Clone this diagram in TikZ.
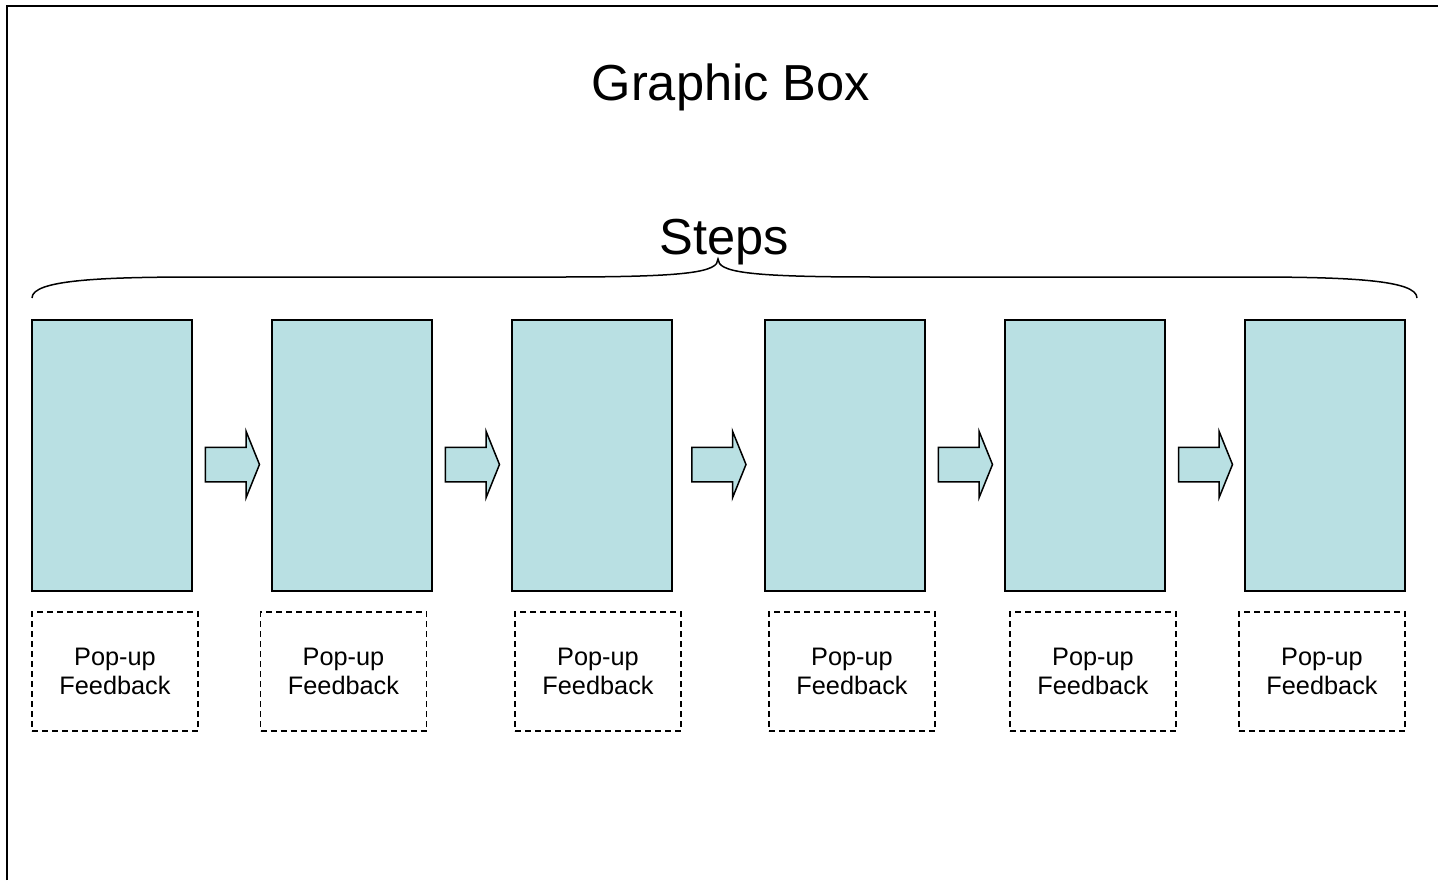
\documentclass[tikz,border=0pt]{standalone}
\usepackage{fontspec}
\setmainfont{Liberation Sans}
\usetikzlibrary{shapes.arrows,calc}
\definecolor{stepfill}{RGB}{185,224,227}

\begin{document}
\begin{tikzpicture}[x=0.2mm,y=-0.2mm,
	stepbox/.style={draw,line width=0.3mm,fill=stepfill,minimum width=32mm,minimum height=54.2mm,inner sep=0},
	popbox/.style={draw,line width=0.25mm,dash pattern=on 1.2mm off 0.8mm,minimum width=33.2mm,minimum height=23.8mm,align=center,font=\fontsize{14.4}{16.6}\selectfont},
	nextarrow/.style={single arrow,draw,line width=0.3mm,fill=stepfill,minimum height=10.8mm,minimum width=13mm,single arrow head extend=3.2mm,single arrow tip angle=136,inner xsep=0,inner ysep=3.3mm,xshift=-0.6mm,yshift=-1.8mm}]
	\useasboundingbox (0,0) rectangle (1438,880);
	
	%FRAME
	\draw[line width=0.4mm] (6.5,880)--(6.5,5.5)--(1438,5.5);
	
	%TITLES
	\node (title) [anchor=base] at (731,100) {\fontsize{28.8}{34}\selectfont Graphic Box};
	\node (steps) [anchor=base] at (724,254) {\fontsize{28.8}{34}\selectfont Steps};
	
	%BRACE
	\draw[line width=0.3mm] (32,298) .. controls (32,280) and (100,277) .. (200,277) -- (560,277)
		.. controls (690,277) and (718,272) .. (718,259)
		.. controls (718,272) and (746,277) .. (876,277) -- (1249,277)
		.. controls (1349,277) and (1417,280) .. (1417,298);
	
	%STEPS
	\node[stepbox] (s1) at (112,455.5) {};
	\node[stepbox] (s2) at (352,455.5) {};
	\node[stepbox] (s3) at (592,455.5) {};
	\node[stepbox] (s4) at (845,455.5) {};
	\node[stepbox] (s5) at (1085,455.5) {};
	\node[stepbox] (s6) at (1325,455.5) {};
	
	%ARROWS
	\node[nextarrow] (a1) at ($(s1.east)!0.5!(s2.west)$) {};
	\node[nextarrow] (a2) at ($(s2.east)!0.5!(s3.west)$) {};
	\node[nextarrow] (a3) at ($(s3.east)!0.5!(s4.west)$) {};
	\node[nextarrow] (a4) at ($(s4.east)!0.5!(s5.west)$) {};
	\node[nextarrow] (a5) at ($(s5.east)!0.5!(s6.west)$) {};
	
	%POP-UPS
	\node[popbox] (p1) at (115,671.5) {Pop-up\\Feedback};
	\node[popbox] (p2) at (343.5,671.5) {Pop-up\\Feedback};
	\node[popbox] (p3) at (598,671.5) {Pop-up\\Feedback};
	\node[popbox] (p4) at (852,671.5) {Pop-up\\Feedback};
	\node[popbox] (p5) at (1093,671.5) {Pop-up\\Feedback};
	\node[popbox] (p6) at (1322,671.5) {Pop-up\\Feedback};
\end{tikzpicture}
\end{document}
